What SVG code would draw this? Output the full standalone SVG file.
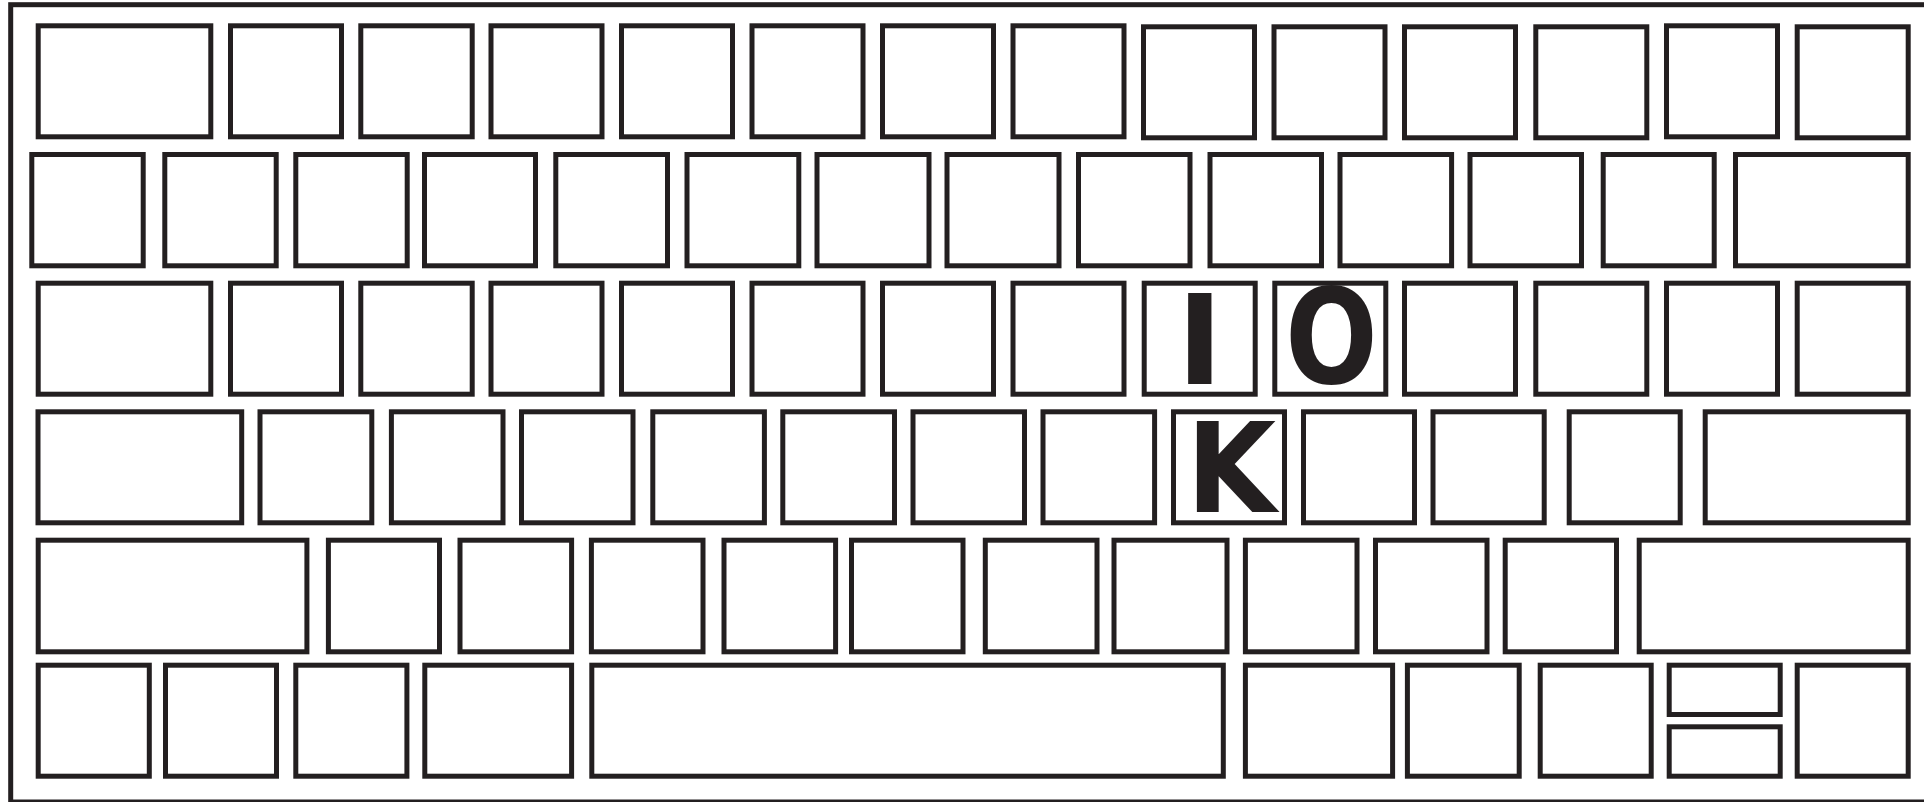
<svg xmlns="http://www.w3.org/2000/svg" width="1924" height="802" viewBox="0 0 1924 802">
<style>
.k{fill:#fff;stroke:#231f20;stroke-width:5}
.frame{fill:none;stroke:#231f20;stroke-width:5}
.lt{font-family:"DejaVu Sans",sans-serif;font-weight:bold;font-size:124px;fill:#231f20}
</style>
<rect width="1924" height="802" fill="#fff"/>
<rect class="frame" x="10.7" y="4.7" width="1960" height="797.3"/>
<g id="row1">
<rect id="r1k1" class="k" x="38.2" y="25.8" width="172.6" height="111"/>
<rect id="r1k2" class="k" x="230.5" y="25.8" width="111" height="111"/>
<rect id="r1k3" class="k" x="360.8" y="25.8" width="111.4" height="111"/>
<rect id="r1k4" class="k" x="491" y="25.8" width="111" height="111"/>
<rect id="r1k5" class="k" x="621.5" y="25.8" width="111" height="111"/>
<rect id="r1k6" class="k" x="752" y="25.8" width="111" height="111"/>
<rect id="r1k7" class="k" x="882.5" y="25.8" width="111" height="111"/>
<rect id="r1k8" class="k" x="1013" y="25.8" width="111" height="111"/>
<rect id="r1k9" class="k" x="1143.5" y="26.8" width="111" height="111"/>
<rect id="r1k10" class="k" x="1274" y="26.8" width="111" height="111"/>
<rect id="r1k11" class="k" x="1404.5" y="26.8" width="111" height="111"/>
<rect id="r1k12" class="k" x="1535.8" y="26.8" width="111" height="111"/>
<rect id="r1k13" class="k" x="1666.5" y="25.8" width="111" height="111"/>
<rect id="r1k14" class="k" x="1797.2" y="26.8" width="111" height="111"/>
</g>
<g id="row2">
<rect id="r2k1" class="k" x="31.8" y="154.5" width="111.4" height="111.3"/>
<rect id="r2k2" class="k" x="164.8" y="154.5" width="111.4" height="111.3"/>
<rect id="r2k3" class="k" x="295.8" y="154.5" width="111.4" height="111.3"/>
<rect id="r2k4" class="k" x="424.5" y="154.5" width="111" height="111.3"/>
<rect id="r2k5" class="k" x="555.8" y="154.5" width="111.7" height="111.3"/>
<rect id="r2k6" class="k" x="687" y="154.5" width="111.8" height="111.3"/>
<rect id="r2k7" class="k" x="817" y="154.5" width="112" height="111.3"/>
<rect id="r2k8" class="k" x="947" y="154.5" width="112" height="111.3"/>
<rect id="r2k9" class="k" x="1078.5" y="154.5" width="111.5" height="111.3"/>
<rect id="r2k10" class="k" x="1210" y="154.5" width="111.5" height="111.3"/>
<rect id="r2k11" class="k" x="1340" y="154.5" width="111.6" height="111.3"/>
<rect id="r2k12" class="k" x="1470" y="154.5" width="111.5" height="111.3"/>
<rect id="r2k13" class="k" x="1603.2" y="154.5" width="111" height="111.3"/>
<rect id="r2k14" class="k" x="1735.5" y="154.5" width="172.7" height="111.3"/>
</g>
<g id="row3">
<rect id="r3k1" class="k" x="38.2" y="283.2" width="172.6" height="111"/>
<rect id="r3k2" class="k" x="230.5" y="283.2" width="111" height="111"/>
<rect id="r3k3" class="k" x="360.8" y="283.2" width="111.4" height="111"/>
<rect id="r3k4" class="k" x="491" y="283.2" width="111" height="111"/>
<rect id="r3k5" class="k" x="621.5" y="283.2" width="111" height="111"/>
<rect id="r3k6" class="k" x="752" y="283.2" width="111" height="111"/>
<rect id="r3k7" class="k" x="882.5" y="283.2" width="111" height="111"/>
<rect id="r3k8" class="k" x="1013" y="283.2" width="111" height="111"/>
<g id="keyI">
<rect class="k" x="1144.2" y="283.2" width="111" height="111"/>
<text class="lt" x="1199.9" y="384" text-anchor="middle">I</text>
</g>
<g id="keyO">
<rect class="k" x="1274.8" y="283.2" width="111" height="111"/>
<text class="lt" x="1330" y="383" text-anchor="middle" transform="matrix(0.876 0 0 1.06 166.23 -23.04)">O</text>
</g>
<rect id="r3k11" class="k" x="1404.5" y="283.2" width="111" height="111"/>
<rect id="r3k12" class="k" x="1535.8" y="283.2" width="111" height="111"/>
<rect id="r3k13" class="k" x="1666.5" y="283.2" width="111" height="111"/>
<rect id="r3k14" class="k" x="1797.2" y="283.2" width="111" height="111"/>
</g>
<g id="row4">
<rect id="r4k1" class="k" x="38" y="411.8" width="203.7" height="111"/>
<rect id="r4k2" class="k" x="260" y="411.8" width="111.8" height="111"/>
<rect id="r4k3" class="k" x="391.4" y="411.8" width="111.6" height="111"/>
<rect id="r4k4" class="k" x="521.5" y="411.8" width="111.5" height="111"/>
<rect id="r4k5" class="k" x="652.8" y="411.8" width="111.6" height="111"/>
<rect id="r4k6" class="k" x="782.8" y="411.8" width="111.7" height="111"/>
<rect id="r4k7" class="k" x="913" y="411.8" width="111.5" height="111"/>
<rect id="r4k8" class="k" x="1043" y="411.8" width="111.6" height="111"/>
<g id="keyK">
<rect class="k" x="1173.5" y="411.8" width="111" height="111"/>
<text class="lt" x="1227" y="512.3" text-anchor="middle" transform="matrix(0.935 0 0 1 83.95 0)">K</text>
</g>
<rect id="r4k10" class="k" x="1303.5" y="411.8" width="111" height="111"/>
<rect id="r4k11" class="k" x="1433" y="411.8" width="111.2" height="111"/>
<rect id="r4k12" class="k" x="1569.2" y="411.8" width="111" height="111"/>
<rect id="r4k13" class="k" x="1705.2" y="411.8" width="203" height="111"/>
</g>
<g id="row5">
<rect id="r5k1" class="k" x="38.2" y="540.2" width="268.7" height="111.6"/>
<rect id="r5k2" class="k" x="328.4" y="540.2" width="111.1" height="111.6"/>
<rect id="r5k3" class="k" x="460" y="540.2" width="111.6" height="111.6"/>
<rect id="r5k4" class="k" x="591.4" y="540.2" width="111.6" height="111.6"/>
<rect id="r5k5" class="k" x="724" y="540.2" width="111.6" height="111.6"/>
<rect id="r5k6" class="k" x="851.5" y="540.2" width="111.5" height="111.6"/>
<rect id="r5k7" class="k" x="985.3" y="540.2" width="111.7" height="111.6"/>
<rect id="r5k8" class="k" x="1114" y="540.2" width="113" height="111.6"/>
<rect id="r5k9" class="k" x="1245.4" y="540.2" width="111.6" height="111.6"/>
<rect id="r5k10" class="k" x="1375.5" y="540.2" width="111.5" height="111.6"/>
<rect id="r5k11" class="k" x="1505.2" y="540.2" width="111.3" height="111.6"/>
<rect id="r5k12" class="k" x="1639.2" y="540.2" width="269" height="111.6"/>
</g>
<g id="row6">
<rect id="r6k1" class="k" x="38.2" y="665.2" width="111.1" height="111"/>
<rect id="r6k2" class="k" x="165.5" y="665.2" width="111" height="111"/>
<rect id="r6k3" class="k" x="295.8" y="665.2" width="111.1" height="111"/>
<rect id="r6k4" class="k" x="424.8" y="665.2" width="146.8" height="111"/>
<rect id="r6k5" class="k" x="591.8" y="665.2" width="631.5" height="111"/>
<rect id="r6k6" class="k" x="1245.4" y="665.2" width="147.2" height="111"/>
<rect id="r6k7" class="k" x="1407.4" y="665.2" width="111.8" height="111"/>
<rect id="r6k8" class="k" x="1540.2" y="665.2" width="111" height="111"/>
<rect id="r6k9a" class="k" x="1669.2" y="665.2" width="111" height="49.3"/>
<rect id="r6k9b" class="k" x="1669.2" y="726.8" width="111" height="49.4"/>
<rect id="r6k10" class="k" x="1797.2" y="665.2" width="111" height="111"/>
</g>
</svg>
